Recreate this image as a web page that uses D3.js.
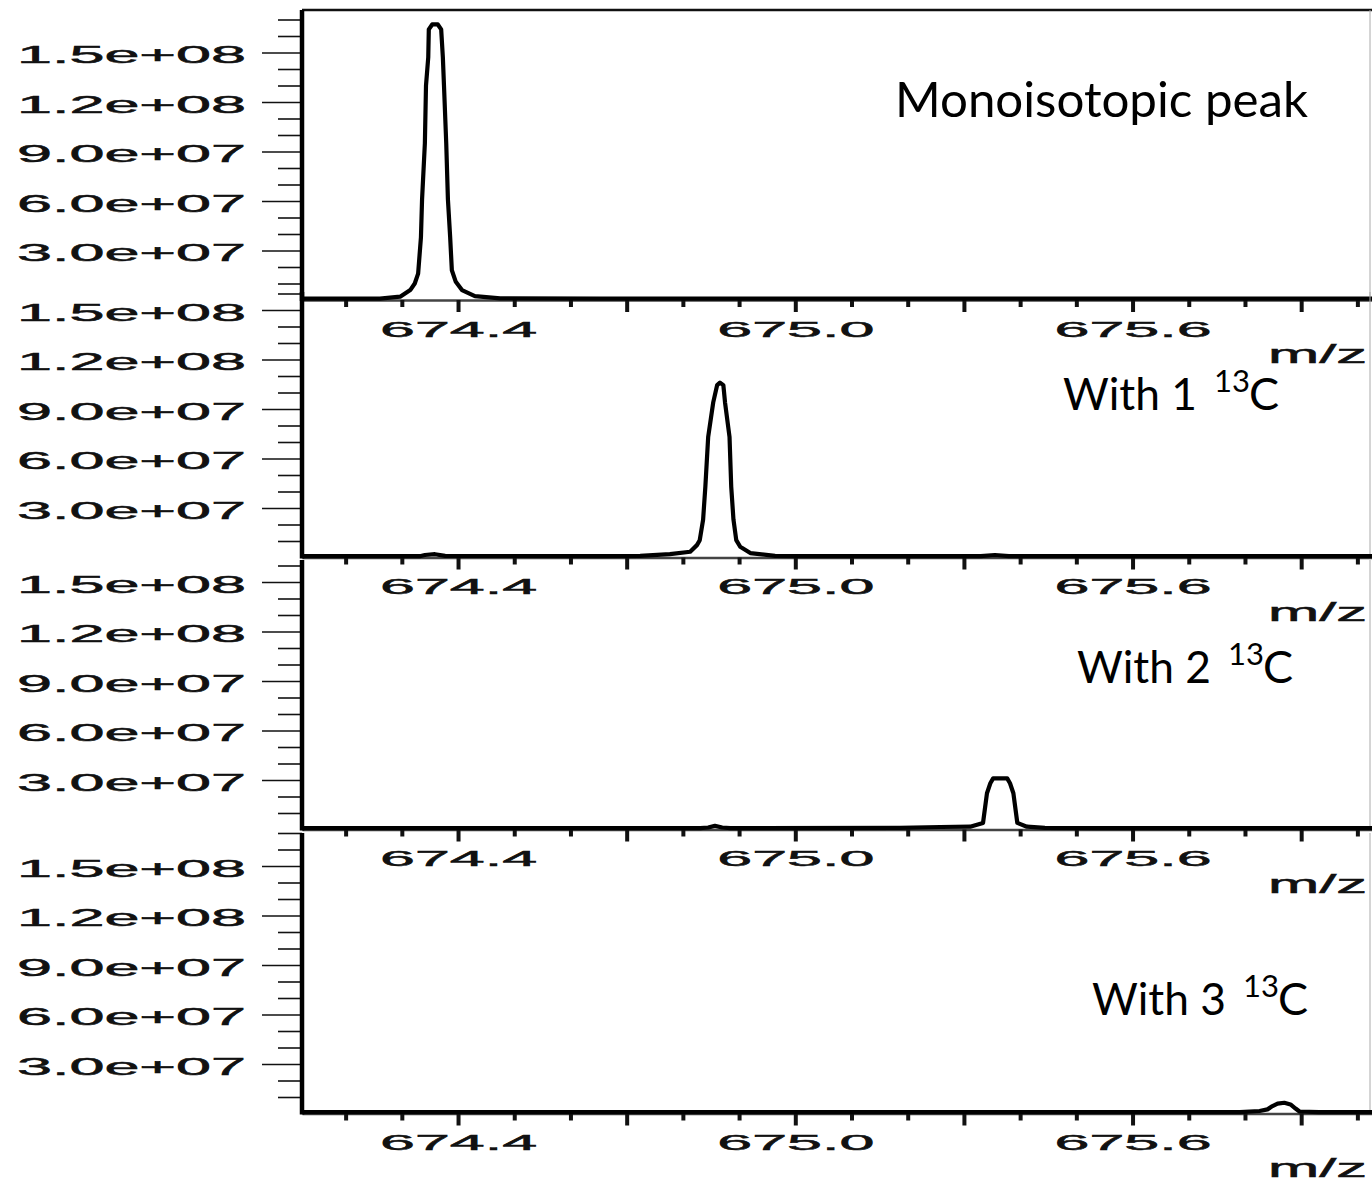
<!DOCTYPE html>
<meta charset="utf-8">
<style>
  body { margin: 0; background: #fff; }
  svg { display: block; }
</style>
<script src="https://d3js.org/d3.v7.min.js"></script>
<div id="chart"></div>
<script>

// m/z ticks
var xMinorTicks = [674.2, 674.3, 674.5, 674.6, 674.8, 674.9, 675.1, 675.2, 675.4, 675.5, 675.7, 675.8, 676.0];
var xMajorTicks = [674.4, 674.7, 675.0, 675.3, 675.6, 675.9];
var xLabelTicks = [674.4, 675.0, 675.6];

// intensity ticks, in units of 1e7 counts
var yUnit = 1e7;
var yMinorTicks = [1, 2, 4, 5, 7, 8, 10, 11, 13, 14, 16, 17];
var yMajorTicks = [3, 6, 9, 12, 15];

// profiles: m/z and intensity (x 1e7)
var monoMz  = [674.122, 674.261, 674.297, 674.315, 674.323, 674.329, 674.334, 674.336, 674.341, 674.343, 674.347, 674.348, 674.354, 674.364, 674.370, 674.373, 674.375, 674.379, 674.382, 674.386, 674.389, 674.396, 674.407, 674.430, 674.475, 674.653, 675.009, 675.500, 676.026];
var monoInt = [0.08, 0.08, 0.2, 0.6, 1.0, 1.6, 3.8, 6.1, 9.5, 13.0, 14.7, 16.4, 16.7, 16.7, 16.4, 14.7, 13.0, 9.5, 6.1, 3.8, 1.8, 1.1, 0.6, 0.24, 0.1, 0.08, 0.08, 0.08, 0.08];

var c1Mz  = [674.122, 674.332, 674.341, 674.359, 674.377, 674.653, 674.724, 674.777, 674.813, 674.825, 674.830, 674.836, 674.840, 674.845, 674.854, 674.861, 674.866, 674.872, 674.875, 674.883, 674.886, 674.890, 674.895, 674.902, 674.920, 674.964, 675.009, 675.330, 675.355, 675.380, 676.026];
var c1Int = [0.08, 0.08, 0.15, 0.2, 0.1, 0.08, 0.1, 0.2, 0.35, 0.75, 1.05, 2.3, 4.3, 7.3, 9.4, 10.45, 10.6, 10.45, 9.4, 7.3, 4.3, 2.3, 1.05, 0.65, 0.27, 0.1, 0.08, 0.08, 0.15, 0.08, 0.08];

var c2Mz  = [674.122, 674.831, 674.845, 674.857, 674.870, 674.884, 675.186, 675.258, 675.311, 675.334, 675.341, 675.347, 675.352, 675.377, 675.382, 675.388, 675.395, 675.412, 675.444, 675.540, 676.026];
var c2Int = [0.08, 0.08, 0.12, 0.22, 0.12, 0.08, 0.1, 0.15, 0.17, 0.4, 2.2, 2.8, 3.1, 3.1, 2.8, 2.2, 0.4, 0.17, 0.1, 0.08, 0.08];

var c3Mz  = [674.122, 675.791, 675.826, 675.840, 675.849, 675.858, 675.870, 675.881, 675.890, 675.897, 675.932, 676.026];
var c3Int = [0.08, 0.08, 0.15, 0.25, 0.45, 0.6, 0.65, 0.55, 0.3, 0.12, 0.08, 0.08];

var panelLabels = ["Monoisotopic peak", "With 1", "With 2", "With 3"];

// stacked panels
var panels = [
  {top: 10,  base: 300,   mz: monoMz, it: monoInt, tx: 895,  ty: 117},
  {top: 292, base: 557.5, mz: c1Mz,   it: c1Int,   tx: 1063, ty: 410},
  {top: 560, base: 829.5, mz: c2Mz,   it: c2Int,   tx: 1077, ty: 683},
  {top: 833, base: 1113.5, mz: c3Mz,  it: c3Int,   tx: 1092, ty: 1015}
];

var axisX = 302, rightX = 1372;

var svg = d3.select("#chart")
  .append("svg")
    .attr("width", 1372)
    .attr("height", 1180);

var x = d3.scaleLinear()
  .domain([674.1224, 676.026])
  .range([axisX, rightX]);

function sciLabel(v) {
  var s = (v * yUnit).toExponential(1).split("e");
  var e = s[1];
  return s[0] + "e" + e[0] + e.slice(1).padStart(2, "0");
}

// top frame of first panel
svg.append("line")
  .attr("x1", axisX).attr("x2", rightX)
  .attr("y1", 10).attr("y2", 10)
  .attr("stroke", "#111").attr("stroke-width", 2.5);

panels.forEach(function (p, i) {
  var y = d3.scaleLinear()
    .domain([0, 15])
    .range([p.base, p.base - 247.5]);

  var g = svg.append("g");

  // right border
  g.append("line")
    .attr("x1", 1370).attr("x2", 1370)
    .attr("y1", p.top).attr("y2", p.base)
    .attr("stroke", "#aaa").attr("stroke-width", 1);

  // x axis: minor, major, labels
  var gxMinor = g.append("g")
    .attr("transform", "translate(0," + p.base + ")")
    .call(d3.axisBottom(x).tickValues(xMinorTicks).tickSize(7).tickSizeOuter(0).tickFormat(""));
  gxMinor.select(".domain").attr("stroke", "#444").attr("stroke-width", 2.5);
  gxMinor.selectAll(".tick line").attr("stroke", "#111").attr("stroke-width", 4);

  var gxMajor = g.append("g")
    .attr("transform", "translate(0," + p.base + ")")
    .call(d3.axisBottom(x).tickValues(xMajorTicks).tickSize(12).tickFormat(""));
  gxMajor.select(".domain").remove();
  gxMajor.selectAll(".tick line").attr("stroke", "#111").attr("stroke-width", 4);

  var gxLab = g.append("g")
    .attr("transform", "translate(0," + p.base + ")")
    .call(d3.axisBottom(x).tickValues(xLabelTicks).tickSize(0).tickPadding(21).tickFormat(d3.format(".1f")));
  gxLab.select(".domain").remove();
  gxLab.selectAll("text")
    .attr("fill", "#111")
    .attr("stroke", "#111")
    .attr("stroke-width", 0.5)
    .style("font-family", "'Liberation Sans', Arial, sans-serif")
    .style("font-size", "22px")
    .attr("textLength", 157)
    .attr("lengthAdjust", "spacingAndGlyphs");

  g.append("text")
    .attr("x", 1367)
    .attr("y", p.base + 63)
    .attr("text-anchor", "end")
    .style("font-family", "'Liberation Sans', Arial, sans-serif")
    .style("font-size", "25px")
    .attr("fill", "#111")
    .attr("stroke", "#111")
    .attr("stroke-width", 0.5)
    .attr("textLength", 99)
    .attr("lengthAdjust", "spacingAndGlyphs")
    .text("m/z");

  // y axis
  var minor = yMinorTicks.filter(function (v) { return y(v) >= p.top - 1; });
  var gyMinor = g.append("g")
    .attr("transform", "translate(" + axisX + ",0)")
    .call(d3.axisLeft(y).tickValues(minor).tickSize(24).tickFormat(""));
  gyMinor.select(".domain").remove();
  gyMinor.selectAll(".tick line").attr("stroke", "#111").attr("stroke-width", 1.6);

  var gyMajor = g.append("g")
    .attr("transform", "translate(" + axisX + ",0)")
    .call(d3.axisLeft(y).tickValues(yMajorTicks).tickSize(40).tickPadding(16).tickFormat(sciLabel));
  gyMajor.select(".domain").remove();
  gyMajor.selectAll(".tick line").attr("stroke", "#111").attr("stroke-width", 1.6);
  gyMajor.selectAll("text")
    .attr("fill", "#111")
    .attr("stroke", "#111")
    .attr("stroke-width", 0.5)
    .attr("dy", "0.42em")
    .style("font-family", "'Liberation Sans', Arial, sans-serif")
    .style("font-size", "24px")
    .attr("textLength", 229)
    .attr("lengthAdjust", "spacingAndGlyphs");

  g.append("line")
    .attr("x1", axisX).attr("x2", axisX)
    .attr("y1", p.top).attr("y2", p.base + 1)
    .attr("stroke", "#000").attr("stroke-width", 4.5);

  // profile trace
  var line = d3.line()
    .x(function (d) { return x(d[0]); })
    .y(function (d) { return y(d[1]); });

  g.append("path")
    .datum(d3.zip(p.mz, p.it))
    .attr("d", line)
    .attr("fill", "none")
    .attr("stroke", "#000")
    .attr("stroke-width", 4.2)
    .attr("stroke-linejoin", "round");

  // annotation
  var t = g.append("text")
    .attr("y", p.ty)
    .style("font-family", "Lato, 'Open Sans', sans-serif")
    .attr("fill", "#000");
  if (i === 0) {
    t.attr("x", p.tx)
      .style("font-size", "48px")
      .attr("textLength", 413)
      .attr("lengthAdjust", "spacingAndGlyphs")
      .text(panelLabels[i]);
  } else {
    t.append("tspan")
      .attr("x", p.tx)
      .style("font-size", "45px")
      .attr("textLength", 134)
      .attr("lengthAdjust", "spacingAndGlyphs")
      .text(panelLabels[i]);
    t.append("tspan")
      .attr("x", p.tx + 151)
      .attr("dy", -18)
      .style("font-size", "31px")
      .text("13");
    t.append("tspan")
      .attr("x", p.tx + 186)
      .attr("dy", 18)
      .style("font-size", "45px")
      .text("C");
  }
});

</script>
